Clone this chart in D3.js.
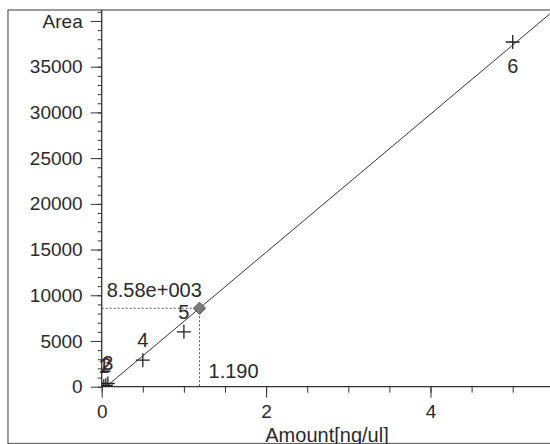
<!DOCTYPE html>
<html>
<head>
<meta charset="utf-8">
<script src="https://cdn.jsdelivr.net/npm/d3@7/dist/d3.min.js"></script>
<style>
  html, body { margin: 0; padding: 0; background: #fff; }
  svg { display: block; }
  text { font-family: "Liberation Sans", Arial, sans-serif; fill: #2a2a2a; }
</style>
</head>
<body>
<svg id="chart" width="550" height="444"></svg>
<script>
// ---- data ----
const pointIds   = ["1", "2", "3", "4", "5", "6"];
const amounts    = [0.025, 0.05, 0.075, 0.5, 1.0, 5.0];
const areas      = [60, 150, 350, 2900, 6000, 37700];
const labelBelow = [false, false, false, false, false, true];
const fitSlope = 7554, fitIntercept = -409, fitStart = 0.08;
const sampleAmount = 1.190, sampleArea = 8580;
const sampleAreaLabel = "8.58e+003", sampleAmountLabel = "1.190";
const yTickValues = [0, 5000, 10000, 15000, 20000, 25000, 30000, 35000, 40000];
const yTickLabels = ["0", "5000", "10000", "15000", "20000", "25000", "30000", "35000", "Area"];
const xTickValues = [0, 2, 4];
const xTickLabels = ["0", "2", "4"];
const xTitle = "Amount[ng/ul]";

// ---- layout ----
const svg = d3.select("#chart");
const x0 = 101.7, y0 = 386.7, yTop = 10;
const xMax = 5.5, yMax = 41200;
const x = d3.scaleLinear().domain([0, xMax]).range([x0, x0 + 82.2 * xMax]);
const y = d3.scaleLinear().domain([0, yMax]).range([y0, yTop]);
const axisColor = "#333";

// frame
svg.append("rect").attr("x", 8).attr("y", 10).attr("width", 560).attr("height", 433.5)
  .attr("fill", "none").attr("stroke", "#666").attr("stroke-width", 1.3);

svg.append("defs").append("clipPath").attr("id", "plotClip")
  .append("rect").attr("x", x0).attr("y", yTop).attr("width", 550 - x0).attr("height", y0 - yTop);

// y axis
const yMinor = svg.append("g").attr("transform", `translate(${x0},0)`)
  .call(d3.axisLeft(y).tickValues(d3.range(0, 41001, 1000)).tickSize(4).tickFormat(""));
yMinor.select(".domain").remove();
const yMajor = svg.append("g").attr("transform", `translate(${x0},0)`)
  .call(d3.axisLeft(y).tickValues(yTickValues).tickSize(11).tickPadding(8)
    .tickFormat((d, i) => yTickLabels[i]));
yMajor.select(".domain").remove();
yMajor.selectAll("text").attr("font-size", 19).attr("font-family", "Liberation Sans, Arial, sans-serif").attr("fill", "#2a2a2a");

// x axis
const xMinor = svg.append("g").attr("transform", `translate(0,${y0})`)
  .call(d3.axisBottom(x).tickValues(d3.range(0, 5.51, 0.5)).tickSize(6).tickFormat(""));
xMinor.select(".domain").remove();
const xMajor = svg.append("g").attr("transform", `translate(0,${y0})`)
  .call(d3.axisBottom(x).tickValues(xTickValues).tickSize(11).tickPadding(7)
    .tickFormat((d, i) => xTickLabels[i]));
xMajor.select(".domain").remove();
xMajor.selectAll("text").attr("font-size", 19).attr("font-family", "Liberation Sans, Arial, sans-serif").attr("fill", "#2a2a2a");
svg.selectAll(".tick line").attr("stroke", axisColor);

// axis lines
svg.append("line").attr("x1", x0).attr("x2", x0).attr("y1", yTop).attr("y2", y0)
  .attr("stroke", axisColor).attr("stroke-width", 1.3);
svg.append("line").attr("x1", x0).attr("x2", 550).attr("y1", y0).attr("y2", y0)
  .attr("stroke", axisColor).attr("stroke-width", 1.3);

svg.append("text").attr("x", 327).attr("y", 442).attr("text-anchor", "middle")
  .attr("font-size", 20).text(xTitle);

const plot = svg.append("g").attr("clip-path", "url(#plotClip)");

// regression line
const fitX = [fitStart, xMax];
plot.append("line")
  .attr("x1", x(fitX[0])).attr("y1", y(fitSlope * fitX[0] + fitIntercept))
  .attr("x2", x(fitX[1])).attr("y2", y(fitSlope * fitX[1] + fitIntercept))
  .attr("stroke", "#333").attr("stroke-width", 1);

// sample dotted guides
svg.append("line").attr("x1", x(0)).attr("x2", x(sampleAmount))
  .attr("y1", y(sampleArea)).attr("y2", y(sampleArea))
  .attr("stroke", "#555").attr("stroke-dasharray", "2,2");
svg.append("line").attr("x1", x(sampleAmount)).attr("x2", x(sampleAmount))
  .attr("y1", y(sampleArea)).attr("y2", y(0))
  .attr("stroke", "#555").attr("stroke-dasharray", "2,2");

// crosses
const pts = pointIds.map((id, i) => ({ id, xv: amounts[i], yv: areas[i], below: labelBelow[i] }));
const arm = 7;
const crosses = plot.selectAll(".pt").data(pts).join("g").attr("class", "pt")
  .attr("transform", d => `translate(${x(d.xv)},${y(d.yv)})`);
crosses.append("line").attr("x1", -arm).attr("x2", arm).attr("y1", 0).attr("y2", 0)
  .attr("stroke", "#222").attr("stroke-width", 1.3);
crosses.append("line").attr("x1", 0).attr("x2", 0).attr("y1", -arm).attr("y2", arm)
  .attr("stroke", "#222").attr("stroke-width", 1.3);

// point labels
svg.selectAll(".plabel").data(pts).join("text").attr("class", "plabel")
  .attr("x", d => x(d.xv)).attr("y", d => y(d.yv) + (d.below ? 31 : -13))
  .attr("text-anchor", "middle").attr("font-size", 20).text(d => d.id);

// sample diamond
svg.append("path").attr("d", d3.symbol(d3.symbolDiamond2, 95)())
  .attr("transform", `translate(${x(sampleAmount)},${y(sampleArea)})`)
  .attr("fill", "#7a7a7a").attr("stroke", "#555").attr("stroke-width", 1);

// sample labels
svg.append("text").attr("x", x(0) + 5).attr("y", y(sampleArea) - 11)
  .attr("font-size", 20).text(sampleAreaLabel);
svg.append("text").attr("x", x(sampleAmount) + 9).attr("y", y(0) - 9)
  .attr("font-size", 20).text(sampleAmountLabel);
</script>
</body>
</html>
